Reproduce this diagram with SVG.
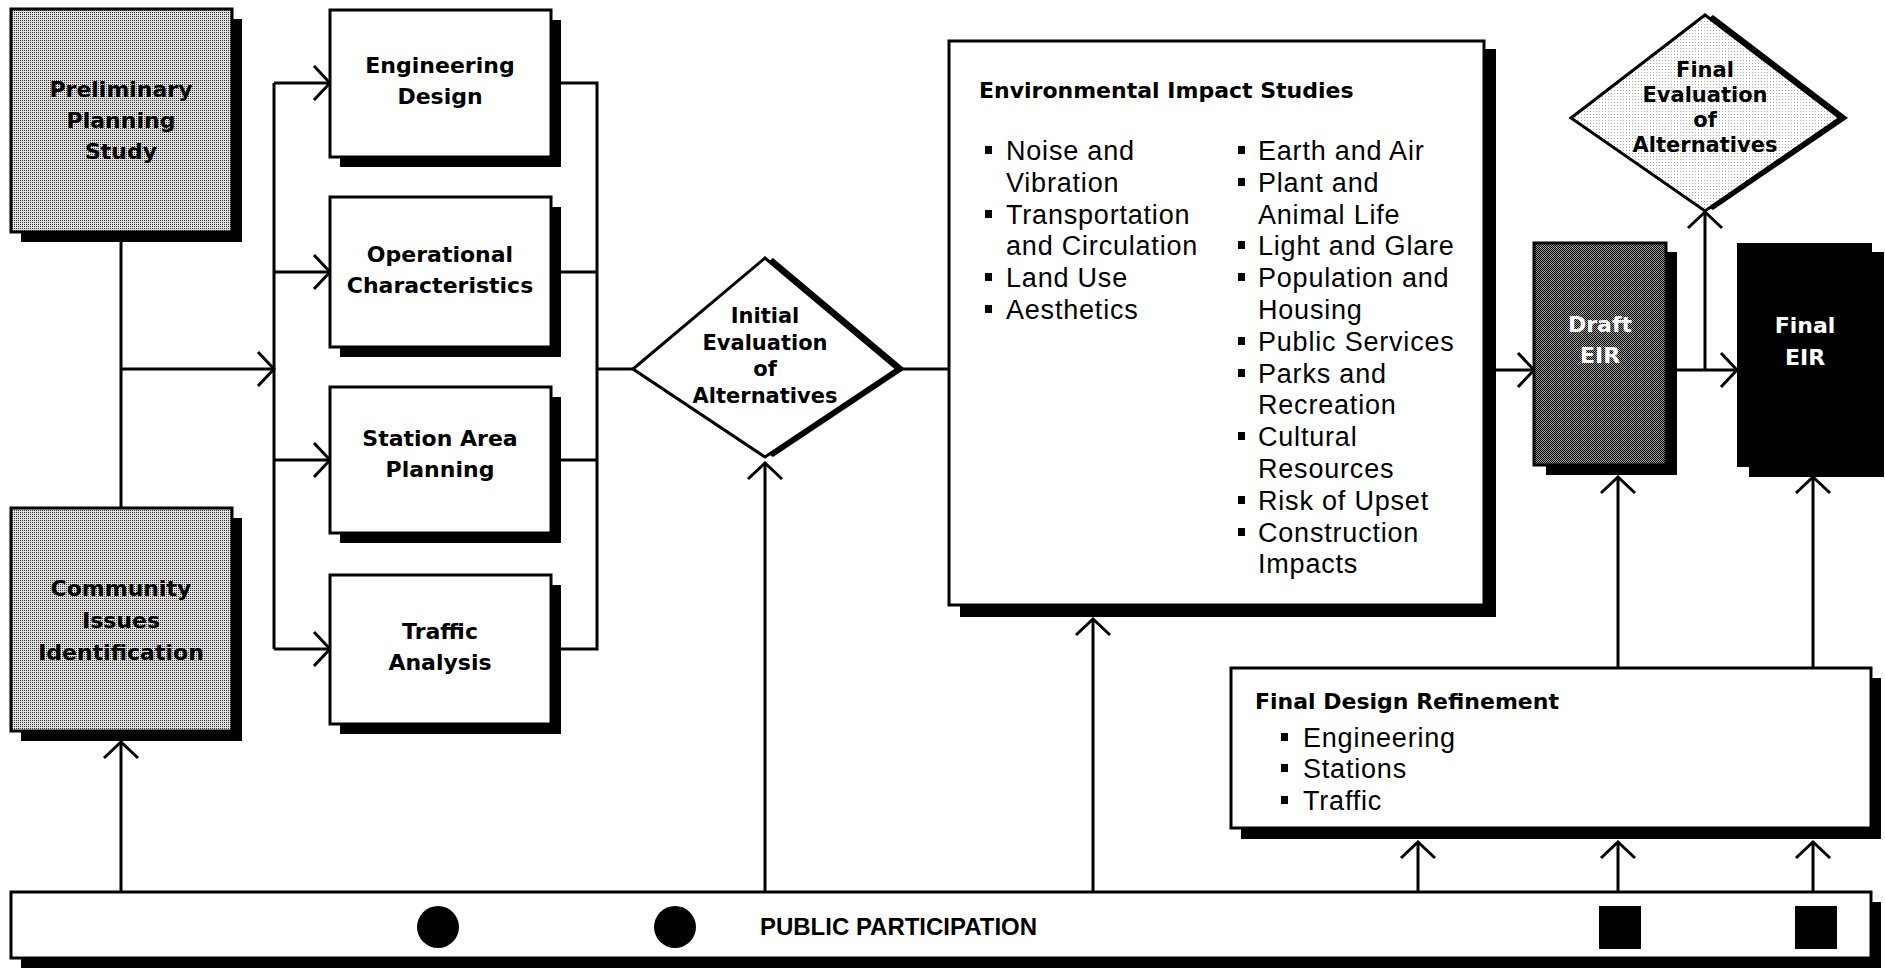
<svg xmlns="http://www.w3.org/2000/svg" width="1885" height="968" viewBox="0 0 1885 968">
<style>
.bx{fill:#fff;stroke:#000;stroke-width:3}
.sh{fill:#000}
.hd{font-family:"DejaVu Sans",sans-serif;font-weight:bold;font-size:22px;fill:#000}
.hc{text-anchor:middle}
.dm{font-size:21px}
.bd{font-family:"Liberation Sans",Arial,sans-serif;font-size:27px;letter-spacing:0.8px;fill:#000}
.ln{fill:none;stroke:#000;stroke-width:3}
.ar{marker-end:url(#ah)}
.wt{fill:#fff}
</style>
<defs>
<marker id="ah" viewBox="-20 -20 22 40" refX="0" refY="0" markerWidth="22" markerHeight="40" markerUnits="userSpaceOnUse" orient="auto">
<path d="M-16,-17 L0,0 L-16,17" fill="none" stroke="#000" stroke-width="3"/>
</marker>
<pattern id="lt" width="2" height="2" patternUnits="userSpaceOnUse">
<rect width="2" height="2" fill="#e0e0e0"/><rect width="1" height="1" fill="#333"/>
</pattern>
<pattern id="dk" width="2" height="2" patternUnits="userSpaceOnUse">
<rect width="2" height="2" fill="#9a9a9a"/><rect width="1" height="1" fill="#000"/><rect x="1" y="1" width="1" height="1" fill="#000"/>
</pattern>
<pattern id="vl" width="3" height="3" patternUnits="userSpaceOnUse">
<rect width="3" height="3" fill="#fff"/><rect width="1" height="1" fill="#aaa"/>
</pattern>
</defs>

<g id="connectors">
<path class="ln" d="M121,232 V508"/>
<path class="ln ar" d="M121,369 H274"/>
<path class="ln" d="M274,83 V649"/>
<path class="ln ar" d="M274,83 H330"/>
<path class="ln ar" d="M274,272 H330"/>
<path class="ln ar" d="M274,460 H330"/>
<path class="ln ar" d="M274,649 H330"/>
<path class="ln" d="M551,83 H597 V649 H551 M551,272 H597 M551,460 H597 M597,369 H633"/>
<path class="ln" d="M897,369 H949"/>
<path class="ln ar" d="M1484,370 H1534"/>
<path class="ln ar" d="M1666,370 H1737"/>
<path class="ln ar" d="M1705,370 V212"/>
<path class="ln ar" d="M1618,667 V477"/>
<path class="ln ar" d="M1813,667 V477"/>
<path class="ln ar" d="M121,892 V742"/>
<path class="ln ar" d="M765,892 V463"/>
<path class="ln ar" d="M1093,892 V619"/>
<path class="ln ar" d="M1418,892 V842"/>
<path class="ln ar" d="M1618,892 V842"/>
<path class="ln ar" d="M1813,892 V842"/>
</g>

<g id="preliminary">
<rect class="sh" x="21" y="19" width="221" height="223"/>
<rect class="bx" x="11" y="9" width="221" height="223" style="fill:url(#lt)"/>
<text class="hd hc" x="121" y="97">Preliminary</text>
<text class="hd hc" x="121" y="128">Planning</text>
<text class="hd hc" x="121" y="159">Study</text>
</g>

<g id="community">
<rect class="sh" x="21" y="518" width="221" height="223"/>
<rect class="bx" x="11" y="508" width="221" height="223" style="fill:url(#lt)"/>
<text class="hd hc" x="121" y="596">Community</text>
<text class="hd hc" x="121" y="628">Issues</text>
<text class="hd hc" x="121" y="660">Identification</text>
</g>

<g id="engineering">
<rect class="sh" x="340" y="20" width="221" height="147"/>
<rect class="bx" x="330" y="10" width="221" height="147"/>
<text class="hd hc" x="440" y="73">Engineering</text>
<text class="hd hc" x="440" y="104">Design</text>
</g>

<g id="operational">
<rect class="sh" x="340" y="207" width="221" height="150"/>
<rect class="bx" x="330" y="197" width="221" height="150"/>
<text class="hd hc" x="440" y="262">Operational</text>
<text class="hd hc" x="440" y="293">Characteristics</text>
</g>

<g id="station">
<rect class="sh" x="340" y="397" width="221" height="146"/>
<rect class="bx" x="330" y="387" width="221" height="146"/>
<text class="hd hc" x="440" y="446">Station Area</text>
<text class="hd hc" x="440" y="477">Planning</text>
</g>

<g id="traffic">
<rect class="sh" x="340" y="585" width="221" height="149"/>
<rect class="bx" x="330" y="575" width="221" height="149"/>
<text class="hd hc" x="440" y="639">Traffic</text>
<text class="hd hc" x="440" y="670">Analysis</text>
</g>

<g id="initial-evaluation">
<polygon class="sh" points="641,369 773,258 905,369 773,457"/>
<polygon class="bx" points="633,369 765,258 897,369 765,457"/>
<text class="hd hc dm" x="765" y="323">Initial</text>
<text class="hd hc dm" x="765" y="350">Evaluation</text>
<text class="hd hc dm" x="765" y="376">of</text>
<text class="hd hc dm" x="765" y="403">Alternatives</text>
</g>

<g id="eis">
<rect class="sh" x="960" y="49" width="536" height="568"/>
<rect class="bx" x="949" y="41" width="535" height="564"/>
<text class="hd" x="979" y="98">Environmental Impact Studies</text>
<g class="bd">
<text x="1006" y="160">Noise and</text>
<text x="1006" y="192">Vibration</text>
<text x="1006" y="224">Transportation</text>
<text x="1006" y="255">and Circulation</text>
<text x="1006" y="287">Land Use</text>
<text x="1006" y="319">Aesthetics</text>
<text x="1258" y="160">Earth and Air</text>
<text x="1258" y="192">Plant and</text>
<text x="1258" y="224">Animal Life</text>
<text x="1258" y="255">Light and Glare</text>
<text x="1258" y="287">Population and</text>
<text x="1258" y="319">Housing</text>
<text x="1258" y="351">Public Services</text>
<text x="1258" y="383">Parks and</text>
<text x="1258" y="414">Recreation</text>
<text x="1258" y="446">Cultural</text>
<text x="1258" y="478">Resources</text>
<text x="1258" y="510">Risk of Upset</text>
<text x="1258" y="542">Construction</text>
<text x="1258" y="573">Impacts</text>
</g>
<g class="sh">
<rect x="985" y="146" width="7" height="8"/>
<rect x="985" y="210" width="7" height="8"/>
<rect x="985" y="273" width="7" height="8"/>
<rect x="985" y="305" width="7" height="8"/>
<rect x="1238" y="146" width="7" height="8"/>
<rect x="1238" y="178" width="7" height="8"/>
<rect x="1238" y="241" width="7" height="8"/>
<rect x="1238" y="273" width="7" height="8"/>
<rect x="1238" y="337" width="7" height="8"/>
<rect x="1238" y="369" width="7" height="8"/>
<rect x="1238" y="432" width="7" height="8"/>
<rect x="1238" y="496" width="7" height="8"/>
<rect x="1238" y="528" width="7" height="8"/>
</g>
</g>

<g id="draft-eir">
<rect class="sh" x="1546" y="252" width="131" height="223"/>
<rect x="1534" y="243" width="132" height="222" style="fill:url(#dk);stroke:#000;stroke-width:3"/>
<text class="hd hc wt" x="1600" y="332">Draft</text>
<text class="hd hc wt" x="1600" y="363">EIR</text>
</g>

<g id="final-evaluation">
<polygon class="sh" points="1579,118 1713,15 1848,118 1713,210"/>
<polygon class="bx" points="1571,118 1705,15 1840,118 1705,211" style="fill:url(#vl)"/>
<text class="hd hc dm" x="1705" y="77">Final</text>
<text class="hd hc dm" x="1705" y="102">Evaluation</text>
<text class="hd hc dm" x="1705" y="127">of</text>
<text class="hd hc dm" x="1705" y="152">Alternatives</text>
</g>

<g id="final-eir">
<rect class="sh" x="1749" y="252" width="135" height="225"/>
<rect class="sh" x="1737" y="243" width="135" height="224"/>
<text class="hd hc wt" x="1805" y="333">Final</text>
<text class="hd hc wt" x="1805" y="365">EIR</text>
</g>

<g id="final-design-refinement">
<rect class="sh" x="1241" y="678" width="640" height="161"/>
<rect class="bx" x="1231" y="668" width="640" height="160"/>
<text class="hd" x="1255" y="709">Final Design Refinement</text>
<g class="bd">
<text x="1303" y="747">Engineering</text>
<text x="1303" y="778">Stations</text>
<text x="1303" y="810">Traffic</text>
</g>
<g class="sh">
<rect x="1281" y="733" width="7" height="8"/>
<rect x="1281" y="764" width="7" height="8"/>
<rect x="1281" y="796" width="7" height="8"/>
</g>
</g>

<g id="public-participation">
<rect class="sh" x="21" y="902" width="1860" height="66"/>
<rect class="bx" x="11" y="892" width="1860" height="66"/>
<ellipse cx="438" cy="927" rx="21" ry="21"/>
<ellipse cx="675" cy="927" rx="21" ry="21"/>
<text x="760" y="935" textLength="277" lengthAdjust="spacingAndGlyphs" style="font-family:'Liberation Sans',Arial,sans-serif;font-weight:bold;font-size:24px">PUBLIC PARTICIPATION</text>
<rect x="1599" y="906" width="42" height="43"/>
<rect x="1795" y="906" width="42" height="43"/>
</g>
</svg>
